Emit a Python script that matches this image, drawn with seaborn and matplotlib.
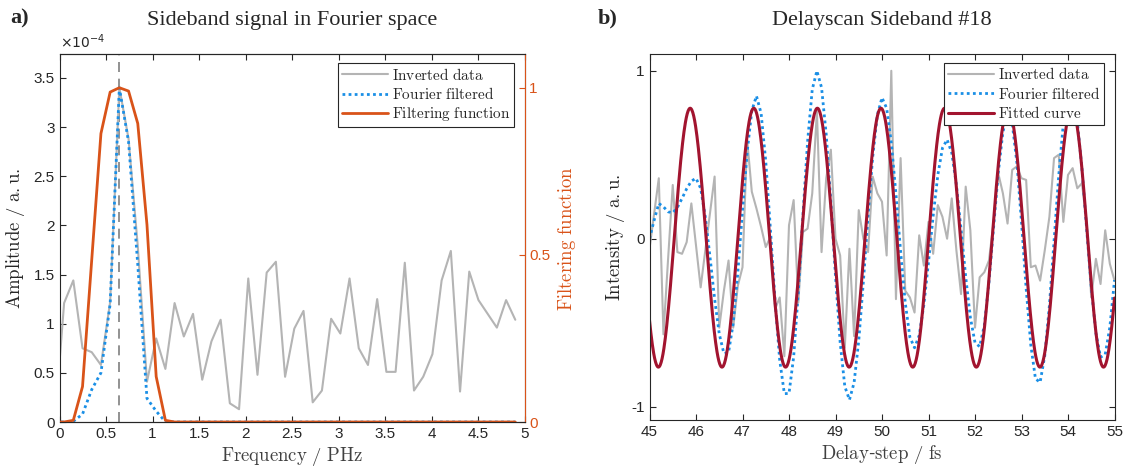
import numpy as np
import pandas as pd
import matplotlib
matplotlib.use("Agg")
import matplotlib.pyplot as plt
import seaborn as sns
from matplotlib.ticker import FuncFormatter

# ---------------- data: left panel (Fourier space) ----------------
freq_index = np.arange(51)
freq_phz = (freq_index - 0.5) / 10.1
inverted_spectrum = np.array([
    0.00, 1.21, 1.44, 0.75, 0.71, 0.58, 1.22, 3.40, 2.88, 1.79,
    0.41, 0.85, 0.54, 1.21, 0.87, 1.10, 0.43, 0.82, 1.04, 0.19,
    0.13, 1.46, 0.48, 1.52, 1.63, 0.46, 0.95, 1.13, 0.20, 0.32,
    1.05, 0.90, 1.46, 0.75, 0.58, 1.25, 0.51, 0.51, 1.62, 0.32,
    0.46, 0.69, 1.44, 1.74, 0.31, 1.53, 1.24, 1.10, 0.96, 1.24,
    1.04]) * 1e-4
filtered_spectrum = np.array([
    0.00, 0.00, 0.007, 0.08, 0.33, 0.50, 1.20, 3.40, 2.85, 1.60,
    0.24, 0.11, 0.003] + [0.0] * 38) * 1e-4
filter_function = np.array([
    0.00, 0.00, 0.005, 0.106, 0.485, 0.863, 0.987, 1.00, 0.99, 0.893,
    0.59, 0.136, 0.005] + [0.0] * 38)
peak_freq = freq_phz[7]

# ---------------- data: right panel (delay scan) ----------------
delay_fs = 45 + 0.1 * np.arange(101)
inverted_signal = np.array([
    -0.06, 0.15, 0.36, -0.57, -0.12, 0.32, -0.08, -0.09, -0.02, 0.21,
    -0.04, -0.29, -0.07, 0.15, 0.37, -0.53, -0.31, -0.13, -0.53, -0.28,
    -0.17, 0.59, 0.28, 0.18, 0.07, -0.05, 0.01, -0.42, -0.35, -0.70,
    0.08, 0.23, -0.38, 0.04, 0.06, 0.27, 0.76, -0.08, 0.36, 0.53,
    0.00, -0.10, -0.65, -0.06, -0.58, 0.17, 0.00, -0.08, 0.37, 0.27,
    0.22, -0.10, 1.00, -0.36, 0.48, -0.31, -0.35, -0.44, 0.02, -0.16,
    0.10, -0.09, 0.20, 0.13, 0.00, 0.24, -0.07, -0.33, 0.31, 0.05,
    -0.53, -0.23, -0.20, -0.13, 0.10, 0.39, 0.27, 0.09, 0.41, 0.43,
    0.36, 0.35, -0.17, -0.16, -0.25, -0.07, 0.13, 0.48, 0.50, 0.10,
    0.38, 0.42, 0.30, 0.33, 0.10, -0.35, -0.12, -0.27, 0.05, -0.15,
    -0.25])
fourier_filtered = np.array([
    0.00, 0.11, 0.21, 0.19, 0.16, 0.154, 0.186, 0.24, 0.298, 0.343,
    0.36, 0.30, 0.131, -0.106, -0.358, -0.567, -0.684, -0.677, -0.505, -0.199,
    0.168, 0.515, 0.762, 0.85, 0.747, 0.461, 0.058, -0.369, -0.723, -0.923,
    -0.922, -0.704, -0.320, 0.142, 0.579, 0.889, 1.00, 0.90, 0.622, 0.22,
    -0.223, -0.617, -0.88, -0.96, -0.857, -0.607, -0.253, 0.134, 0.487, 0.737,
    0.84, 0.777, 0.572, 0.265, -0.076, -0.382, -0.587, -0.65, -0.576, -0.395,
    -0.140, 0.135, 0.378, 0.540, 0.59, 0.512, 0.320, 0.056, -0.227, -0.469,
    -0.619, -0.643, -0.517, -0.261, 0.068, 0.392, 0.635, 0.747, 0.688, 0.454,
    0.099, -0.296, -0.633, -0.834, -0.856, -0.698, -0.398, -0.014, 0.373, 0.686,
    0.857, 0.859, 0.701, 0.416, 0.061, -0.288, -0.563, -0.706, -0.69, -0.527,
    -0.247])
# fitted model parameters (cosine fit)
fit_amplitude = 0.771
fit_offset = 0.006
fit_period_fs = 1.3675
fit_peak_fs = 45.875

# ---------------- style ----------------
sns.set_style("ticks")
plt.rcParams["font.family"] = ["Liberation Sans", "DejaVu Sans"]
plt.rcParams["mathtext.fontset"] = "cm"
plt.rcParams["xtick.direction"] = "in"
plt.rcParams["ytick.direction"] = "in"
title_font = ["Liberation Serif", "DejaVu Serif"]


def tex(s):
    return r"$\mathrm{" + s.replace(" ", r"\ ").replace("#", r"\#") + "}$"


GRAY = "#b4b4b4"
BLUE = "#1a8fe6"
ORANGE = "#d95319"
RED = "#a2142f"
TICKC = "#262626"
TICKFS = 11
LABFS = 13.5

fig = plt.figure(figsize=(11.26, 4.71), dpi=100)
axL = fig.add_axes([59.5 / 1126, 49 / 471, 465 / 1126, 367.7 / 471])
axR = fig.add_axes([649.5 / 1126, 51 / 471, 465 / 1126, 366 / 471])

legend_kw = dict(prop={"size": 11}, fancybox=False, framealpha=1,
                 edgecolor="#262626", borderpad=0.25, labelspacing=0.22,
                 handlelength=3.0, handletextpad=0.3, borderaxespad=0.2)

# ---------------- left panel ----------------
dfL = pd.DataFrame({"f": freq_phz, "inv": inverted_spectrum,
                    "filt": filtered_spectrum, "fun": filter_function})
ax2 = axL.twinx()
axL.axvline(peak_freq, color="#7f7f7f", linestyle=(0, (6, 4)), lw=1.2, zorder=1)
sns.lineplot(data=dfL, x="f", y="inv", ax=axL, color=GRAY, lw=1.5, label=tex("Inverted data"))
sns.lineplot(data=dfL, x="f", y="filt", ax=axL, color=BLUE, lw=2.0,
             linestyle=(0, (1, 1.2)), label=tex("Fourier filtered"))
sns.lineplot(data=dfL, x="f", y="fun", ax=ax2, color=ORANGE, lw=2.0,
             label=tex("Filtering function"))
axL.set_xlim(0, 5)
axL.set_ylim(0, 3.74e-4)
ax2.set_ylim(0, 1.1)
axL.set_xticks(np.arange(0, 5.01, 0.5))
axL.xaxis.set_major_formatter(FuncFormatter(lambda v, p: f"{v:g}"))
axL.set_yticks(np.arange(0, 3.6e-4, 0.5e-4))
axL.yaxis.set_major_formatter(FuncFormatter(lambda v, p: f"{v * 1e4:g}"))
axL.text(0.0, 1.008, r"$\times10^{-4}$", transform=axL.transAxes, fontsize=10,
         color=TICKC, ha="left", va="bottom",
         fontfamily="DejaVu Sans", math_fontfamily="dejavusans")
ax2.set_yticks([0, 0.5, 1])
ax2.yaxis.set_major_formatter(FuncFormatter(lambda v, p: f"{v:g}"))
axL.tick_params(axis="both", labelsize=TICKFS, colors=TICKC, top=True, length=4, width=0.8)
ax2.tick_params(axis="y", labelsize=TICKFS, colors=ORANGE, length=4, width=0.8, direction="in")
for s in ["left", "top", "bottom"]:
    axL.spines[s].set_color(TICKC)
ax2.spines["right"].set_color(ORANGE)
ax2.spines["left"].set_visible(False)
axL.set_xlabel(tex("Frequency / PHz"), fontsize=LABFS, color="#404040", labelpad=3)
axL.set_ylabel(tex("Amplitude / a.u."), fontsize=LABFS, color="#262626")
axL.yaxis.set_label_coords(-0.070, 0.5)
ax2.set_ylabel(tex("Filtering function"), fontsize=LABFS, color=ORANGE)
ax2.yaxis.set_label_coords(1.068, 0.5)
axL.set_title("Sideband signal in Fourier space", fontsize=16, family=title_font, pad=21)
fig.text(10 / 1126, 1 - 18 / 471, "a)", fontsize=16, fontweight="bold",
         family=title_font, va="center", ha="left")

hL, lL = axL.get_legend_handles_labels()
h2, l2 = ax2.get_legend_handles_labels()
axL.get_legend().remove()
ax2.get_legend().remove()
legL = ax2.legend(hL + h2, lL + l2, loc="upper right", bbox_to_anchor=(0.985, 0.985), **legend_kw)
legL.get_frame().set_linewidth(0.8)

# ---------------- right panel ----------------
t_fit = np.linspace(45, 55, 1000)
fitted_curve = fit_offset + fit_amplitude * np.cos(2 * np.pi * (t_fit - fit_peak_fs) / fit_period_fs)
dfR = pd.DataFrame({"t": delay_fs, "inv": inverted_signal, "ff": fourier_filtered})
dfFit = pd.DataFrame({"t": t_fit, "fit": fitted_curve})
sns.lineplot(data=dfR, x="t", y="inv", ax=axR, color=GRAY, lw=1.5, label=tex("Inverted data"))
sns.lineplot(data=dfR, x="t", y="ff", ax=axR, color=BLUE, lw=2.0,
             linestyle=(0, (1, 1.2)), label=tex("Fourier filtered"))
sns.lineplot(data=dfFit, x="t", y="fit", ax=axR, color=RED, lw=2.2, label=tex("Fitted curve"))
axR.set_xlim(45, 55)
axR.set_ylim(-1.08, 1.1)
axR.set_xticks(np.arange(45, 56, 1))
axR.set_yticks([-1, 0, 1])
axR.set_yticklabels(["-1", "0", "1"])
axR.tick_params(axis="both", labelsize=TICKFS, colors=TICKC, top=True, right=True,
                length=4, width=0.8)
for s in axR.spines.values():
    s.set_color(TICKC)
    s.set_visible(True)
axR.set_xlabel(r"$\mathrm{Delay}$-$\mathrm{step\ /\ fs}$", fontsize=LABFS,
               color="#404040", labelpad=3)
axR.set_ylabel(tex("Intensity / a.u."), fontsize=LABFS, color="#262626")
axR.yaxis.set_label_coords(-0.048, 0.5)
axR.set_title("Delayscan Sideband #18", fontsize=16, family=title_font, pad=21)
fig.text(598 / 1126, 1 - 18 / 471, "b)", fontsize=16, fontweight="bold",
         family=title_font, va="center", ha="left")
legR = axR.legend(loc="upper right", bbox_to_anchor=(0.985, 0.985), **legend_kw)
legR.get_frame().set_linewidth(0.8)

fig.savefig("out.png", dpi=100)
